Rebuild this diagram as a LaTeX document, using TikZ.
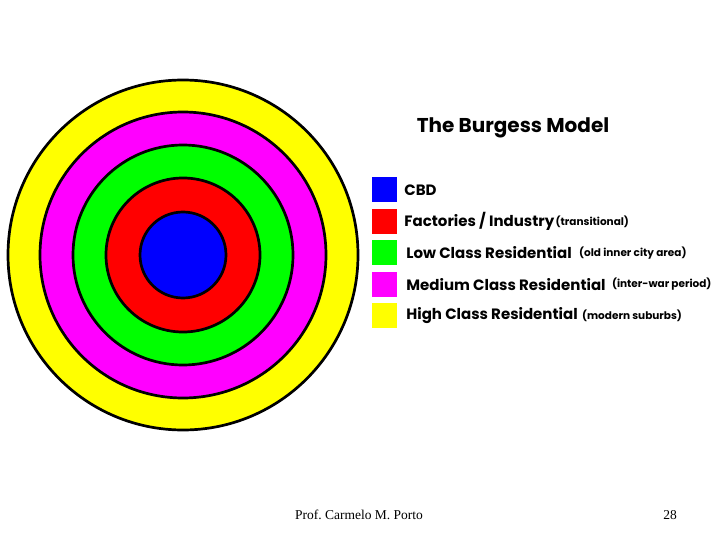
\documentclass[tikz,border=0pt]{standalone}
\usepackage{fontspec}
\setmainfont{Liberation Serif}
\newfontfamily\legendfont{Poppins}
\usetikzlibrary{positioning}
\definecolor{zonecbd}{HTML}{0000FF}
\definecolor{zonefact}{HTML}{FF0000}
\definecolor{zonelow}{HTML}{00FF00}
\definecolor{zonemed}{HTML}{FF00FF}
\definecolor{zonehigh}{HTML}{FFFF00}

\begin{document}
\begin{tikzpicture}[
        x=1pt, y=-1pt,
        key/.style={rectangle, minimum size=25pt, inner sep=0pt},
        zone/.style={anchor=west, inner sep=0pt, font=\legendfont\bfseries\fontsize{15}{15}\selectfont},
        note/.style={anchor=west, inner sep=0pt, font=\legendfont\bfseries\fontsize{10.5}{10.5}\selectfont},
        foot/.style={inner sep=0pt, font=\fontsize{13.5}{13.5}\selectfont}
    ]
    \useasboundingbox (0,0) rectangle (720,540);
    % rings, outside in
    \foreach \r/\c in {175/zonehigh, 143/zonemed, 110/zonelow, 77/zonefact, 43/zonecbd}
        \filldraw[fill=\c, draw=black, line width=2.7pt] (183,255) circle[radius=\r];
    % title and legend
    \node[inner sep=0pt, font=\legendfont\bfseries\fontsize{20}{20}\selectfont] (title) at (513,128) {The Burgess Model};
    \node[key, fill=zonecbd] (kcbd) at (384.5,190) {};
    \node[key, fill=zonefact, below=6pt of kcbd] (kfact) {};
    \node[key, fill=zonelow, below=6pt of kfact] (klow) {};
    \node[key, fill=zonemed, below=6pt of klow] (kmed) {};
    \node[key, fill=zonehigh, below=6pt of kmed] (khigh) {};
    \node[zone, right=7pt of kcbd] (lcbd) {CBD};
    \node[zone, right=7pt of kfact] (lfact) {Factories / Industry};
    \node[zone, right=9pt of klow] (llow) {Low Class Residential};
    \node[zone, right=9pt of kmed] (lmed) {Medium Class Residential};
    \node[zone, right=9pt of khigh] (lhigh) {High Class Residential};
    \node[note, right=1pt of lfact] (nfact) {(transitional)};
    \node[note, right=7pt of llow] (nlow) {(old inner city area)};
    \node[note, right=6pt of lmed] (nmed) {(inter-war period)};
    \node[note, right=4pt of lhigh] (nhigh) {(modern suburbs)};
    % footer
    \node[foot] (author) at (359,515) {Prof.\ Carmelo M. Porto};
    \node[foot] (page) at (670,515) {28};
\end{tikzpicture}
\end{document}
